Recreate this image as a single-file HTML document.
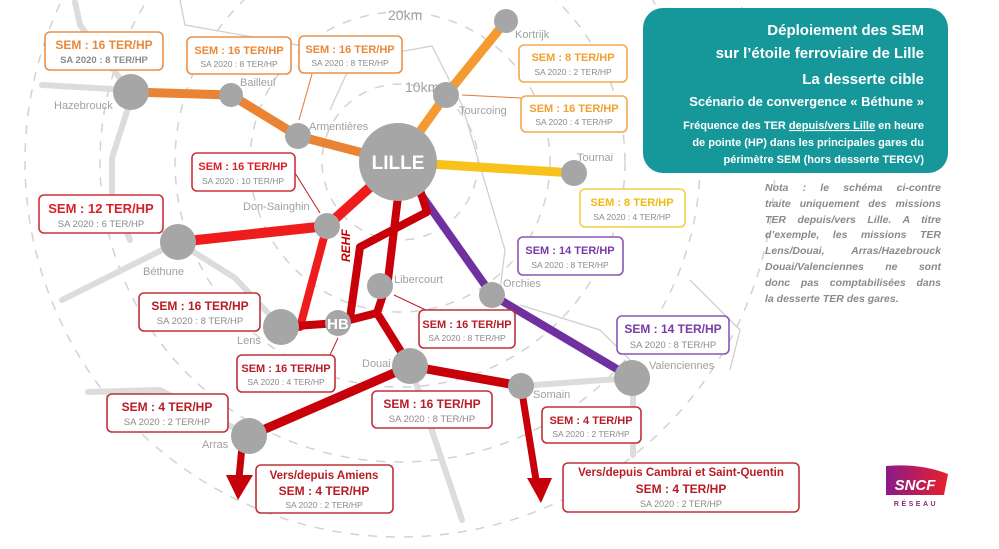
<!DOCTYPE html>
<html><head><meta charset="utf-8">
<style>
html,body{margin:0;padding:0;background:#fff;}
svg{display:block;}
text{font-family:"Liberation Sans",sans-serif;}
.b{font-weight:bold;}
#nota{position:absolute;left:765px;top:181px;width:176px;font:italic bold 10.5px/15.8px "Liberation Sans",sans-serif;color:#8a8a8a;}
#nota div{text-align:justify;text-align-last:justify;white-space:nowrap;}
#nota div.l{text-align-last:left;}
</style></head><body>
<div style="position:relative;width:999px;height:549px;">
<svg width="999" height="549" viewBox="0 0 999 549" xmlns="http://www.w3.org/2000/svg">
<rect width="999" height="549" fill="#fff"/>
<g fill="none" stroke="#d2d2d2" stroke-width="1.5" stroke-dasharray="9 9">
<circle cx="400" cy="162" r="78"/>
<circle cx="400" cy="162" r="150"/>
<circle cx="400" cy="162" r="225"/>
<circle cx="400" cy="162" r="300"/>
<circle cx="400" cy="162" r="375"/>
</g>
<g fill="none" stroke="#dcdcdc" stroke-width="6" stroke-linecap="round">
<polyline points="75,2 80,25 125,85"/>
<line x1="42" y1="85" x2="131" y2="90"/>
<polyline points="128,108 112,158 112,195 130,240"/>
<polyline points="62,300 178,242 235,278 280,326"/>
<polyline points="88,392 160,390 250,436"/>
<line x1="415" y1="380" x2="462" y2="520"/>
<line x1="521" y1="386" x2="632" y2="378"/>
<line x1="633" y1="380" x2="633" y2="455"/>
</g>
<g fill="none" stroke="#d0d0d0" stroke-width="1.3">
<polyline points="180,0 185,25 355,55 330,110"/>
<polyline points="355,60 432,46 462,105 505,250 500,290"/>
<polyline points="520,305 600,330 640,370"/>
<polyline points="690,280 740,330 730,370"/>
</g>
<g fill="none" stroke-linecap="round" stroke-linejoin="round">
<polyline points="131,92 231,95 298,136 398,162" stroke="#ea8434" stroke-width="9"/>
<polyline points="398,162 446,95 506,21" stroke="#f59a30" stroke-width="9"/>
<line x1="398" y1="162" x2="574" y2="173" stroke="#f7c21a" stroke-width="9"/>
<polyline points="398,162 492,295 632,378" stroke="#7030a0" stroke-width="8"/>
<polyline points="398,162 327,226 178,242" stroke="#ee1c1c" stroke-width="10"/>
<polyline points="327,226 300,327 281,327" stroke="#ee1c1c" stroke-width="8"/>
<polyline points="281,327 338,323 377,313" stroke="#c8000a" stroke-width="8"/>
<polyline points="400,180 388,280 377,313 410,366" stroke="#c8000a" stroke-width="8"/>
<polyline points="420,190 427,212 360,247 350,318" stroke="#c8000a" stroke-width="8"/>
<polyline points="410,366 249,436" stroke="#c8000a" stroke-width="9"/>
<polyline points="410,366 521,386" stroke="#c8000a" stroke-width="9"/>
<line x1="521" y1="386" x2="536" y2="480" stroke="#c8000a" stroke-width="7"/>
<line x1="243" y1="436" x2="239" y2="478" stroke="#c8000a" stroke-width="7"/>
</g>
<polygon points="226,475 253,475 238,500" fill="#c8000a"/>
<polygon points="527,478 552,478 541,503" fill="#c8000a"/>
<g stroke="#e07a3a" stroke-width="1" fill="none">
<line x1="312" y1="74" x2="299" y2="120"/>
<line x1="521" y1="98" x2="462" y2="95"/>
</g>
<g stroke="#c0202a" stroke-width="1" fill="none">
<line x1="295" y1="173" x2="320" y2="213"/>
<line x1="330" y1="355" x2="338" y2="338"/>
<line x1="430" y1="312" x2="394" y2="295"/>
</g>
<g fill="#a6a6a6">
<circle cx="398" cy="162" r="39"/>
<circle cx="131" cy="92" r="18"/>
<circle cx="231" cy="95" r="12"/>
<circle cx="298" cy="136" r="13"/>
<circle cx="506" cy="21" r="12"/>
<circle cx="446" cy="95" r="13"/>
<circle cx="574" cy="173" r="13"/>
<circle cx="327" cy="226" r="13"/>
<circle cx="178" cy="242" r="18"/>
<circle cx="281" cy="327" r="18"/>
<circle cx="338" cy="323" r="13"/>
<circle cx="380" cy="286" r="13"/>
<circle cx="492" cy="295" r="13"/>
<circle cx="410" cy="366" r="18"/>
<circle cx="521" cy="386" r="13"/>
<circle cx="632" cy="378" r="18"/>
<circle cx="249" cy="436" r="18"/>
</g>
<text x="398" y="169" font-size="19" fill="#fff" text-anchor="middle" class="b">LILLE</text>
<text x="338" y="329" font-size="15" fill="#fff" text-anchor="middle" class="b">HB</text>
<text x="350" y="262" font-size="12" fill="#c00000" class="b" font-style="italic" transform="rotate(-90 350 262)">REHF</text>
<g font-size="11" fill="#a0a0a0">
<text x="405" y="92" font-size="14">10km</text>
<text x="388" y="20" font-size="14">20km</text>
<text x="54" y="109">Hazebrouck</text>
<text x="240" y="86">Bailleul</text>
<text x="309" y="130">Armentières</text>
<text x="515" y="38">Kortrijk</text>
<text x="459" y="114">Tourcoing</text>
<text x="577" y="161">Tournai</text>
<text x="243" y="210">Don-Sainghin</text>
<text x="143" y="275">Béthune</text>
<text x="237" y="344">Lens</text>
<text x="394" y="283">Libercourt</text>
<text x="503" y="287">Orchies</text>
<text x="362" y="367">Douai</text>
<text x="533" y="398">Somain</text>
<text x="649" y="369">Valenciennes</text>
<text x="202" y="448">Arras</text>
</g>
<g fill="#fff" stroke-width="1.6">
<rect x="45" y="32" width="118" height="38" rx="5" stroke="#e8904a"/>
<rect x="187" y="37" width="104" height="37" rx="5" stroke="#e8904a"/>
<rect x="299" y="36" width="103" height="37" rx="5" stroke="#e8904a"/>
<rect x="519" y="45" width="108" height="37" rx="5" stroke="#f2a950"/>
<rect x="521" y="96" width="106" height="36" rx="5" stroke="#f2a950"/>
<rect x="580" y="189" width="105" height="38" rx="5" stroke="#f5cf45"/>
<rect x="518" y="237" width="105" height="38" rx="5" stroke="#8a55b5"/>
<rect x="617" y="316" width="112" height="38" rx="5" stroke="#8a55b5"/>
<rect x="192" y="153" width="103" height="38" rx="5" stroke="#d03038"/>
<rect x="39" y="195" width="124" height="38" rx="5" stroke="#d03038"/>
<rect x="139" y="293" width="121" height="38" rx="5" stroke="#c0303a"/>
<rect x="237" y="355" width="98" height="37" rx="5" stroke="#c0303a"/>
<rect x="419" y="310" width="96" height="38" rx="5" stroke="#c0303a"/>
<rect x="372" y="391" width="120" height="37" rx="5" stroke="#c0303a"/>
<rect x="107" y="394" width="121" height="38" rx="5" stroke="#c0303a"/>
<rect x="256" y="465" width="137" height="48" rx="5" stroke="#c0303a"/>
<rect x="542" y="407" width="99" height="36" rx="5" stroke="#c0303a"/>
<rect x="563" y="463" width="236" height="49" rx="5" stroke="#c0303a"/>
</g>
<g text-anchor="middle" class="b">
<g font-size="11">
<text x="104" y="49" fill="#e8893a" font-size="12">SEM : 16 TER/HP</text>
<text x="239" y="54" fill="#e8893a">SEM : 16 TER/HP</text>
<text x="350" y="53" fill="#e8893a">SEM : 16 TER/HP</text>
<text x="573" y="61" fill="#f0a030">SEM : 8 TER/HP</text>
<text x="574" y="112" fill="#f0a030">SEM : 16 TER/HP</text>
<text x="632" y="206" fill="#f0bb10">SEM : 8 TER/HP</text>
<text x="570" y="254" fill="#7a3aa8">SEM : 14 TER/HP</text>
<text x="673" y="333" fill="#7a3aa8" font-size="12">SEM : 14 TER/HP</text>
<text x="243" y="170" fill="#d8202a">SEM : 16 TER/HP</text>
<text x="101" y="213" fill="#d8202a" font-size="13">SEM : 12 TER/HP</text>
<text x="200" y="310" fill="#b81c24" font-size="12">SEM : 16 TER/HP</text>
<text x="286" y="372" fill="#b81c24">SEM : 16 TER/HP</text>
<text x="467" y="328" fill="#b81c24">SEM : 16 TER/HP</text>
<text x="432" y="408" fill="#b81c24" font-size="12">SEM : 16 TER/HP</text>
<text x="167" y="411" fill="#b81c24" font-size="12">SEM : 4 TER/HP</text>
<text x="591" y="424" fill="#b81c24">SEM : 4 TER/HP</text>
<text x="324" y="479" fill="#b81c24" font-size="11.5">Vers/depuis  Amiens</text>
<text x="324" y="495" fill="#b81c24" font-size="12">SEM : 4 TER/HP</text>
<text x="681" y="476" fill="#b81c24" font-size="11.5">Vers/depuis Cambrai et Saint-Quentin</text>
<text x="681" y="493" fill="#b81c24" font-size="12">SEM : 4 TER/HP</text>
</g>
<g font-size="8.5" fill="#8a8a8a" font-weight="normal">
<text x="104" y="63" font-size="9.5" class="b">SA 2020 :  8 TER/HP</text>
<text x="239" y="67">SA 2020 : 8 TER/HP</text>
<text x="350" y="66">SA 2020 : 8 TER/HP</text>
<text x="573" y="75">SA 2020 : 2 TER/HP</text>
<text x="574" y="125">SA 2020 : 4 TER/HP</text>
<text x="632" y="220">SA 2020 : 4 TER/HP</text>
<text x="570" y="268">SA 2020 : 8 TER/HP</text>
<text x="673" y="348" font-size="9.5">SA 2020 : 8 TER/HP</text>
<text x="243" y="184">SA 2020 : 10 TER/HP</text>
<text x="101" y="227" font-size="9.5">SA 2020 : 6 TER/HP</text>
<text x="200" y="324" font-size="9.5">SA 2020 : 8 TER/HP</text>
<text x="286" y="385">SA 2020 : 4 TER/HP</text>
<text x="467" y="341">SA 2020 : 8 TER/HP</text>
<text x="432" y="422" font-size="9.5">SA 2020 :  8 TER/HP</text>
<text x="167" y="425" font-size="9.5">SA 2020 : 2 TER/HP</text>
<text x="591" y="437">SA 2020 : 2 TER/HP</text>
<text x="324" y="508">SA 2020 : 2 TER/HP</text>
<text x="681" y="507" font-size="9">SA 2020 : 2 TER/HP</text>
</g>
</g>
<rect x="643" y="8" width="305" height="165" rx="20" fill="#16979a"/>
<g fill="#fff" text-anchor="end" class="b">
<text x="924" y="35" font-size="15">Déploiement des SEM</text>
<text x="924" y="58" font-size="15">sur l’étoile ferroviaire de Lille</text>
<text x="924" y="84" font-size="15">La desserte cible</text>
<text x="924" y="106" font-size="13">Scénario de convergence « Béthune »</text>
<text x="924" y="129" font-size="11">Fréquence des TER <tspan text-decoration="underline">depuis/vers Lille</tspan> en heure</text>
<text x="924" y="146" font-size="11">de pointe (HP) dans les principales gares du</text>
<text x="924" y="163" font-size="11">périmètre SEM  (hors desserte TERGV)</text>
</g>
<defs><linearGradient id="g" x1="0" x2="1"><stop offset="0" stop-color="#8a1a8a"/><stop offset="1" stop-color="#e8202a"/></linearGradient></defs>
<path d="M886,466 Q920,463 948,474 L944,495 L886,495 Z" fill="url(#g)"/>
<text x="915" y="490" font-size="15" fill="#fff" text-anchor="middle" font-style="italic" class="b">SNCF</text>
<text x="916" y="506" font-size="7" fill="#8a2a7a" text-anchor="middle" letter-spacing="2.5" class="b">RÉSEAU</text>
</svg>
<div id="nota">
<div>Nota : le schéma ci-contre</div>
<div>traite uniquement des missions</div>
<div>TER depuis/vers Lille. A titre</div>
<div>d’exemple, les missions TER</div>
<div>Lens/Douai, Arras/Hazebrouck</div>
<div>Douai/Valenciennes ne sont</div>
<div>donc pas comptabilisées dans</div>
<div class="l">la desserte TER des gares.</div>
</div>
</div>
</body></html>
